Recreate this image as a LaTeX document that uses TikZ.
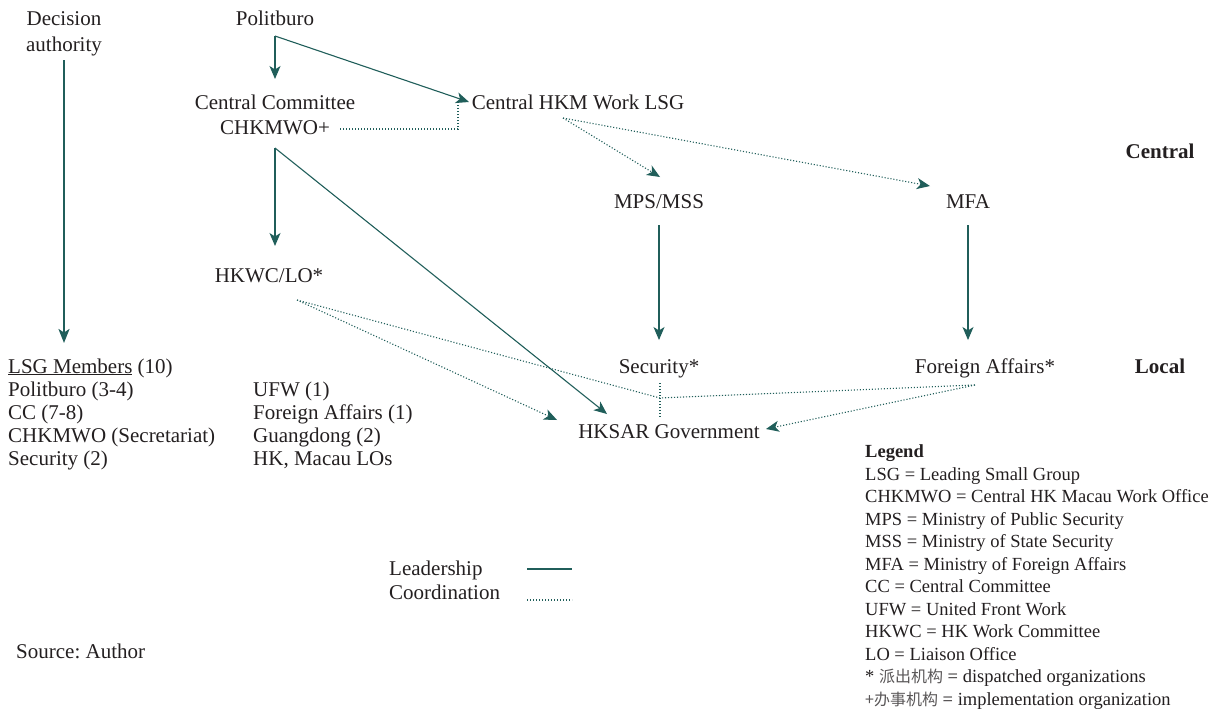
\documentclass[tikz,border=0pt]{standalone}
\usepackage{fontspec}
\setmainfont{Liberation Serif}
\newfontfamily\cjk{Noto Sans CJK SC}
\usetikzlibrary{arrows.meta}
\definecolor{leadc}{RGB}{32,94,90}
\definecolor{txt}{RGB}{35,31,32}
\frenchspacing
\begin{document}
\begin{tikzpicture}[x=1pt,y=-1pt,
  lbl/.style={inner sep=0pt, text=txt, font=\fontsize{21}{26}\selectfont, anchor=base},
  lbll/.style={lbl, anchor=base west},
  bold/.style={lbl, font=\fontsize{21}{26}\selectfont\bfseries},
  leg/.style={inner sep=0pt, text=txt, font=\fontsize{18.5}{22.5}\selectfont, anchor=base west},
  tip/.style={-{Stealth[length=13pt,width=11pt,inset=3.5pt]}},
  leadline/.style={draw=leadc, line width=1.1pt},
  coordline/.style={draw=leadc, line width=1.1pt, dash pattern=on 1.1pt off 1.9pt},
]
\useasboundingbox (0,0) rectangle (1223,713);

% --- text nodes
\node[lbl] (dec1) at (64,25) {Decision};
\node[lbl] (dec2) at (64,51) {authority};
\node[lbl] (pol) at (275,25) {Politburo};
\node[lbl] (cc1) at (275,109) {Central Committee};
\node[lbl] (cc2) at (275,134) {CHKMWO+};
\node[lbl] (lsg) at (578,109) {Central HKM Work LSG};
\node[bold] (central) at (1160,158) {Central};
\node[lbl] (mps) at (659,208) {MPS/MSS};
\node[lbl] (mfa) at (968,208) {MFA};
\node[lbl] (hkwc) at (269,282) {HKWC/LO*};
\node[lbl] (sec) at (659,373) {Security*};
\node[lbl] (fa) at (985,373) {Foreign Affairs*};
\node[bold] (local) at (1160,373) {Local};
\node[lbl] (hksar) at (669,438) {HKSAR Government};

\node[lbll] (m0) at (8,373) {\underline{LSG Members} (10)};
\node[lbll] (m1) at (8,396) {Politburo (3-4)};
\node[lbll] (m2) at (8,419) {CC (7-8)};
\node[lbll] (m3) at (8,442) {CHKMWO (Secretariat)};
\node[lbll] (m4) at (8,465) {Security (2)};
\node[lbll] (n1) at (253,396) {UFW (1)};
\node[lbll] (n2) at (253,419) {Foreign Affairs (1)};
\node[lbll] (n3) at (253,442) {Guangdong (2)};
\node[lbll] (n4) at (253,465) {HK, Macau LOs};

\node[lbll] (kl) at (389,575) {Leadership};
\node[lbll] (kc) at (389,599) {Coordination};
\node[lbll] (src) at (16,658) {Source: Author};

\node[leg, font=\fontsize{18.5}{22.5}\selectfont\bfseries] (legt) at (865,457) {Legend};
\node[leg] (l1) at (865,480) {LSG = Leading Small Group};
\node[leg] (l2) at (865,502.5) {CHKMWO = Central HK Macau Work Office};
\node[leg] (l3) at (865,525) {MPS = Ministry of Public Security};
\node[leg] (l4) at (865,547.5) {MSS = Ministry of State Security};
\node[leg] (l5) at (865,570) {MFA = Ministry of Foreign Affairs};
\node[leg] (l6) at (865,592.5) {CC = Central Committee};
\node[leg] (l7) at (865,615) {UFW = United Front Work};
\node[leg] (l8) at (865,637.5) {HKWC = HK Work Committee};
\node[leg] (l9) at (865,660) {LO = Liaison Office};
\node[leg] (l10) at (865,682.5) {* {\cjk\fontsize{16}{20}\selectfont\color{txt!75}派出机构} = dispatched organizations};
\node[leg] (l11) at (865,705) {{\cjk\fontsize{16}{20}\selectfont\color{txt!75}+办事机构} = implementation organization};

% --- junction coordinates
\coordinate (decA) at (64,60);
\coordinate (decB) at (64,343);
\coordinate (polJ) at (275,36);
\coordinate (ccTop) at (275,79);
\coordinate (lsgW) at (469,102);
\coordinate (ccR) at (340,129);
\coordinate (ccK) at (458,129);
\coordinate (lsgB) at (458,105);
\coordinate (lsgJ) at (563,118);
\coordinate (mpsT) at (660,177);
\coordinate (mfaT) at (930,186);
\coordinate (ccJ) at (275,148);
\coordinate (hkwcT) at (275,246);
\coordinate (hksarT) at (607,414);
\coordinate (mpsB) at (659,225);
\coordinate (secT) at (659,340);
\coordinate (mfaB) at (968,225);
\coordinate (faT) at (968,340);
\coordinate (hkwcJ) at (297,300);
\coordinate (hksarW) at (557,420);
\coordinate (secJ) at (660,398);
\coordinate (faJ) at (975,385);
\coordinate (hksarE) at (766,429);
\coordinate (secB) at (660,383);
\coordinate (hksarN) at (660,417);
\coordinate (klA) at (527,569);
\coordinate (klB) at (572,569);
\coordinate (kcA) at (527,600);
\coordinate (kcB) at (572,600);

% --- leadership connectors
\draw[leadline, line width=2pt, -{Stealth[length=14pt,width=11pt,inset=3.5pt]}] (decA) -- (decB);
\draw[leadline, tip] (polJ) -- (ccTop);
\draw[leadline, tip] (polJ) -- (lsgW);
\draw[leadline, tip] (ccJ) -- (hkwcT);
\draw[leadline, tip] (ccJ) -- (hksarT);
\draw[leadline, tip] (mpsB) -- (secT);
\draw[leadline, tip] (mfaB) -- (faT);

% --- coordination connectors
\draw[coordline] (ccR) -- (ccK) -- (lsgB);
\draw[coordline, tip] (lsgJ) -- (mpsT);
\draw[coordline, tip] (lsgJ) -- (mfaT);
\draw[coordline, tip] (hkwcJ) -- (hksarW);
\draw[coordline] (hkwcJ) -- (secJ) -- (faJ);
\draw[coordline, tip] (faJ) -- (hksarE);
\draw[coordline] (secB) -- (hksarN);

% --- key lines
\draw[leadline] (klA) -- (klB);
\draw[coordline] (kcA) -- (kcB);
\end{tikzpicture}
\end{document}
